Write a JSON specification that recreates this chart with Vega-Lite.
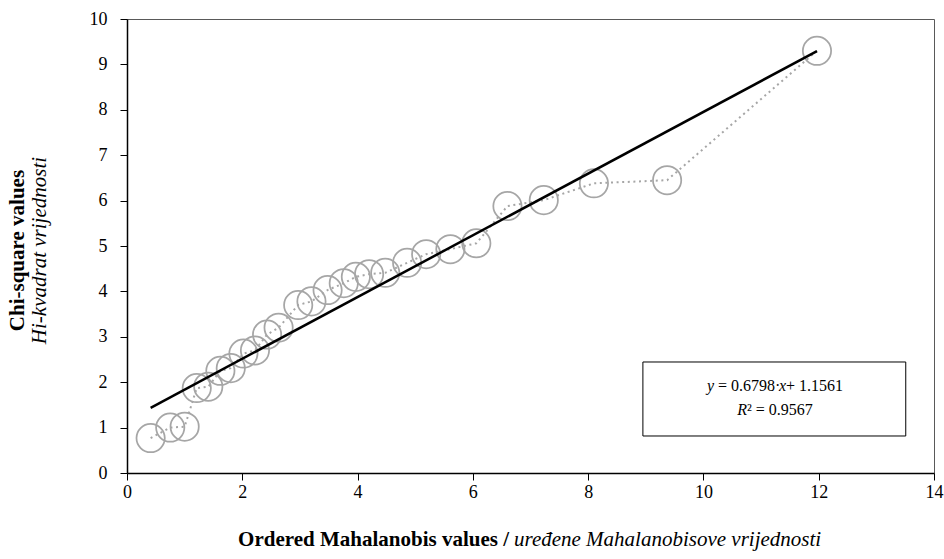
{
  "$schema": "https://vega.github.io/schema/vega-lite/v6.json",
  "width": 807,
  "height": 454,
  "autosize": {"type": "none"},
  "padding": {"left": 127, "top": 19, "right": 10, "bottom": 86},
  "background": "white",
  "config": {
    "view": {"stroke": "#595959", "strokeWidth": 1},
    "font": "Liberation Serif",
    "axis": {
      "grid": false,
      "domainColor": "black",
      "domainWidth": 1.5,
      "tickColor": "black",
      "tickWidth": 1,
      "tickSize": 7,
      "labelFont": "Liberation Serif",
      "labelFontSize": 18,
      "labelColor": "black",
      "labelFlush": false,
      "format": "d",
      "title": null
    }
  },
  "datasets": {
    "points": [
      {"x": 0.41, "y": 0.77}, {"x": 0.75, "y": 1.0}, {"x": 1.0, "y": 1.02},
      {"x": 1.21, "y": 1.87}, {"x": 1.41, "y": 1.9}, {"x": 1.62, "y": 2.25},
      {"x": 1.8, "y": 2.31}, {"x": 2.02, "y": 2.63}, {"x": 2.22, "y": 2.7},
      {"x": 2.43, "y": 3.05}, {"x": 2.63, "y": 3.2}, {"x": 2.97, "y": 3.7},
      {"x": 3.2, "y": 3.78}, {"x": 3.48, "y": 4.03}, {"x": 3.76, "y": 4.18},
      {"x": 3.97, "y": 4.32}, {"x": 4.2, "y": 4.38}, {"x": 4.48, "y": 4.41},
      {"x": 4.86, "y": 4.63}, {"x": 5.19, "y": 4.82}, {"x": 5.61, "y": 4.93},
      {"x": 6.06, "y": 5.06}, {"x": 6.6, "y": 5.88}, {"x": 7.23, "y": 6.01},
      {"x": 8.1, "y": 6.38}, {"x": 9.37, "y": 6.45}, {"x": 11.97, "y": 9.3}
    ],
    "trend": [{"x": 0.41, "y": 1.435}, {"x": 11.97, "y": 9.293}],
    "box": [{"x1": 8.95, "x2": 13.51, "y1": 0.815, "y2": 2.445}],
    "labels": [
      {"t": "Ordered Mahalanobis values /", "x": 6.627, "y": -1.476, "s": "bold-x"},
      {"t": "uređene Mahalanobisove vrijednosti", "x": 6.714, "y": -1.476, "s": "ital-x"},
      {"t": "Chi-square values", "x": -1.89, "y": 4.9, "s": "bold-y"},
      {"t": "Hi-kvadrat vrijednosti", "x": -1.51, "y": 4.9, "s": "ital-y"},
      {"t": "y", "x": 10.06, "y": 1.916, "s": "ital-eq"},
      {"t": "= 0.6798·", "x": 10.253, "y": 1.916, "s": "norm-eq"},
      {"t": "x", "x": 11.311, "y": 1.916, "s": "ital-eq"},
      {"t": "+ 1.1561", "x": 11.434, "y": 1.916, "s": "norm-eq"},
      {"t": "R", "x": 10.586, "y": 1.388, "s": "ital-eq"},
      {"t": "² = 0.9567", "x": 10.756, "y": 1.388, "s": "norm-eq"}
    ]
  },
  "layer": [
    {
      "data": {"name": "points"},
      "mark": {"type": "line", "stroke": "#a6a6a6", "strokeWidth": 2, "strokeDash": [2, 3.6], "strokeCap": "butt"},
      "encoding": {
        "x": {"field": "x", "type": "quantitative", "scale": {"domain": [0, 14], "nice": false, "zero": false},
              "axis": {"values": [0, 2, 4, 6, 8, 10, 12, 14], "labelPadding": 3, "labelFont": "Liberation Serif", "labelFontSize": 18, "format": "d"}},
        "y": {"field": "y", "type": "quantitative", "scale": {"domain": [0, 10], "nice": false, "zero": false},
              "axis": {"values": [0, 1, 2, 3, 4, 5, 6, 7, 8, 9, 10], "labelPadding": 13, "labelFont": "Liberation Serif", "labelFontSize": 18, "format": "d"}}
      }
    },
    {
      "data": {"name": "points"},
      "mark": {"type": "point", "shape": "circle", "size": 800, "filled": false, "stroke": "#a6a6a6", "strokeWidth": 1.75, "opacity": 1},
      "encoding": {
        "x": {"field": "x", "type": "quantitative", "scale": {"domain": [0, 14]}},
        "y": {"field": "y", "type": "quantitative", "scale": {"domain": [0, 10]}}
      }
    },
    {
      "data": {"name": "trend"},
      "mark": {"type": "line", "stroke": "black", "strokeWidth": 2.5},
      "encoding": {
        "x": {"field": "x", "type": "quantitative", "scale": {"domain": [0, 14]}},
        "y": {"field": "y", "type": "quantitative", "scale": {"domain": [0, 10]}}
      }
    },
    {
      "data": {"name": "box"},
      "mark": {"type": "rect", "fill": "white", "stroke": "black", "strokeWidth": 1},
      "encoding": {
        "x": {"field": "x1", "type": "quantitative", "scale": {"domain": [0, 14]}},
        "x2": {"field": "x2"},
        "y": {"field": "y1", "type": "quantitative", "scale": {"domain": [0, 10]}},
        "y2": {"field": "y2"}
      }
    },
    {
      "data": {"name": "labels"},
      "transform": [{"filter": "datum.s == 'bold-x'"}],
      "mark": {"type": "text", "font": "Liberation Serif", "fontSize": 21, "fontWeight": "bold", "align": "right", "baseline": "middle", "color": "black"},
      "encoding": {
        "x": {"field": "x", "type": "quantitative", "scale": {"domain": [0, 14]}},
        "y": {"field": "y", "type": "quantitative", "scale": {"domain": [0, 10]}},
        "text": {"field": "t"}
      }
    },
    {
      "data": {"name": "labels"},
      "transform": [{"filter": "datum.s == 'ital-x'"}],
      "mark": {"type": "text", "font": "Liberation Serif", "fontSize": 21, "fontStyle": "italic", "align": "left", "baseline": "middle", "color": "black"},
      "encoding": {
        "x": {"field": "x", "type": "quantitative", "scale": {"domain": [0, 14]}},
        "y": {"field": "y", "type": "quantitative", "scale": {"domain": [0, 10]}},
        "text": {"field": "t"}
      }
    },
    {
      "data": {"name": "labels"},
      "transform": [{"filter": "datum.s == 'bold-y'"}],
      "mark": {"type": "text", "font": "Liberation Serif", "fontSize": 21, "fontWeight": "bold", "angle": 270, "align": "center", "baseline": "middle", "color": "black"},
      "encoding": {
        "x": {"field": "x", "type": "quantitative", "scale": {"domain": [0, 14]}},
        "y": {"field": "y", "type": "quantitative", "scale": {"domain": [0, 10]}},
        "text": {"field": "t"}
      }
    },
    {
      "data": {"name": "labels"},
      "transform": [{"filter": "datum.s == 'ital-y'"}],
      "mark": {"type": "text", "font": "Liberation Serif", "fontSize": 21, "fontStyle": "italic", "angle": 270, "align": "center", "baseline": "middle", "color": "black"},
      "encoding": {
        "x": {"field": "x", "type": "quantitative", "scale": {"domain": [0, 14]}},
        "y": {"field": "y", "type": "quantitative", "scale": {"domain": [0, 10]}},
        "text": {"field": "t"}
      }
    },
    {
      "data": {"name": "labels"},
      "transform": [{"filter": "datum.s == 'ital-eq'"}],
      "mark": {"type": "text", "font": "Liberation Serif", "fontSize": 16, "fontStyle": "italic", "align": "left", "baseline": "middle", "color": "black"},
      "encoding": {
        "x": {"field": "x", "type": "quantitative", "scale": {"domain": [0, 14]}},
        "y": {"field": "y", "type": "quantitative", "scale": {"domain": [0, 10]}},
        "text": {"field": "t"}
      }
    },
    {
      "data": {"name": "labels"},
      "transform": [{"filter": "datum.s == 'norm-eq'"}],
      "mark": {"type": "text", "font": "Liberation Serif", "fontSize": 16, "align": "left", "baseline": "middle", "color": "black"},
      "encoding": {
        "x": {"field": "x", "type": "quantitative", "scale": {"domain": [0, 14]}},
        "y": {"field": "y", "type": "quantitative", "scale": {"domain": [0, 10]}},
        "text": {"field": "t"}
      }
    }
  ]
}
